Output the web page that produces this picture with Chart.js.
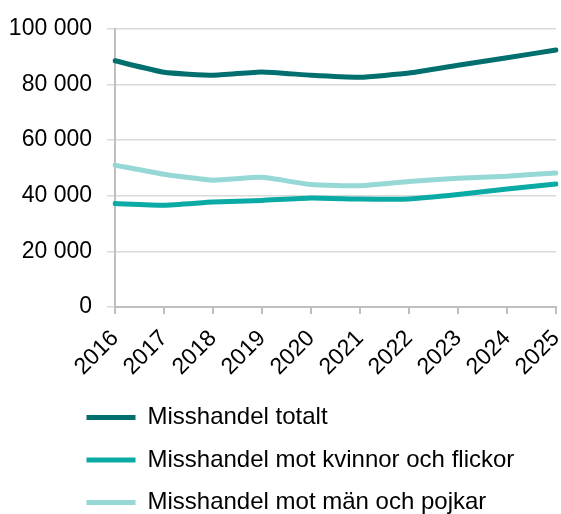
<!DOCTYPE html>
<html>
<head>
<meta charset="utf-8">
<script src="https://cdn.jsdelivr.net/npm/chart.js@4"></script>
<style>
  html, body { margin: 0; padding: 0; background: #fff; }
  #wrap { width: 561px; height: 514px; }
</style>
</head>
<body>
<div id="wrap"><canvas id="assaultChart"></canvas></div>
<script>
//Data
const years = ['2016', '2017', '2018', '2019', '2020', '2021', '2022', '2023', '2024', '2025'];
const totalt = [88500, 84400, 83300, 84500, 83300, 82600, 84100, 86900, 89600, 92400];
const kvinnor = [37200, 36600, 37700, 38300, 39200, 38800, 38800, 40400, 42400, 44200];
const man = [51000, 47700, 45600, 46600, 44000, 43600, 45100, 46300, 47000, 48200];

const yTicks = [0, 20000, 40000, 60000, 80000, 100000];

//Thousands with a space, like "100 000"
function formatNumber(v) {
    return String(v).replace(/\B(?=(\d{3})+(?!\d))/g, ' ');
}

//Moves the legend to the right so it sits where the original one is
const legendShift = {
    id: 'legendShift',
    afterLayout(chart) {
        const lg = chart.legend;
        lg.left += 59;
        lg.right += 59;
    }
};

const font = { family: '"Liberation Sans", Arial, sans-serif', size: 23 };

const data = {
    labels: years,
    datasets: [
        {
            label: 'Misshandel totalt',
            data: totalt,
            borderColor: '#006f6e',
            backgroundColor: '#006f6e',
        },
        {
            label: 'Misshandel mot kvinnor och flickor',
            data: kvinnor,
            borderColor: '#0aaaa5',
            backgroundColor: '#0aaaa5',
        },
        {
            label: 'Misshandel mot män och pojkar',
            data: man,
            borderColor: '#95d8d5',
            backgroundColor: '#95d8d5',
        }
    ]
};

data.datasets.forEach(ds => {
    ds.borderWidth = 5;
    ds.pointRadius = 0;
    ds.pointHoverRadius = 0;
    ds.pointStyle = 'line';
    ds.tension = 0.15;
    ds.borderCapStyle = 'round';
    ds.fill = false;
});

const config = {
    type: 'line',
    data: data,
    options: {
        responsive: true,
        maintainAspectRatio: false,
        animation: false,
        layout: {
            //negative bottom: the last legend row is cut off in the original too
            padding: { top: 22, left: 9, right: 5, bottom: -10.5 }
        },
        plugins: {
            legend: {
                position: 'bottom',
                align: 'start',
                labels: {
                    usePointStyle: true,
                    pointStyle: 'line',
                    pointStyleWidth: 49,
                    padding: 18.5,
                    color: '#000',
                    font: { family: font.family, size: 24 }
                }
            },
            tooltip: { enabled: false }
        },
        scales: {
            x: {
                grid: {
                    drawOnChartArea: false,
                    drawTicks: true,
                    tickLength: 7,
                    color: '#bfbfbf',
                    lineWidth: 2
                },
                border: { color: '#bfbfbf', width: 2 },
                ticks: {
                    color: '#000',
                    font: font,
                    minRotation: 45,
                    maxRotation: 45,
                    padding: 11
                },
                afterFit(scale) {
                    scale.paddingRight = 0;
                    scale.height = 80;
                }
            },
            y: {
                min: 0,
                max: 100000,
                afterBuildTicks(scale) {
                    scale.ticks = yTicks.map(v => ({ value: v }));
                },
                grid: {
                    color: '#d9d9d9',
                    tickLength: 8,
                    lineWidth: 1.5
                },
                border: { color: '#bfbfbf', width: 2 },
                ticks: {
                    color: '#000',
                    font: font,
                    padding: 15,
                    callback: v => formatNumber(v)
                },
                afterFit(scale) {
                    scale.width = 106;
                }
            }
        }
    },
    plugins: [legendShift]
};

//Rendering the chart
const ctx = document.getElementById('assaultChart').getContext('2d');
new Chart(ctx, config);
</script>
</body>
</html>
